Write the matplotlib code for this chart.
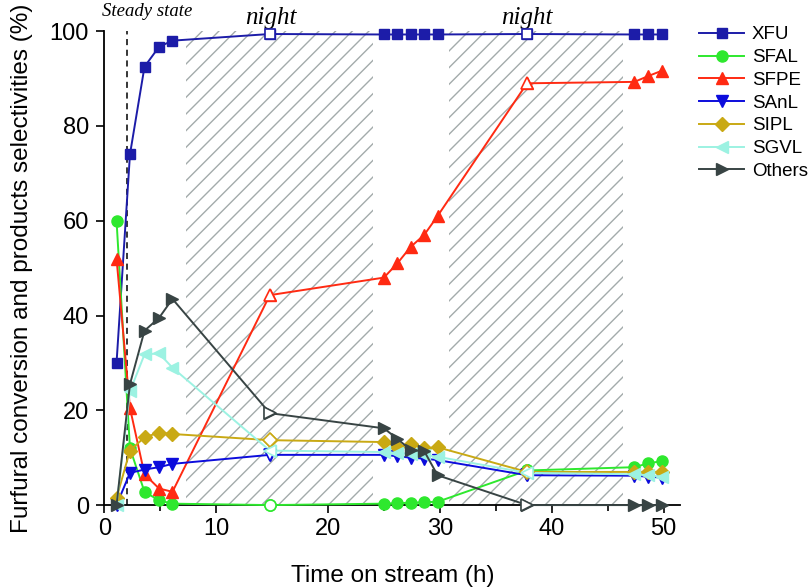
import matplotlib.pyplot as plt
from matplotlib.ticker import MultipleLocator

plt.rcParams['font.family'] = ['Liberation Sans', 'DejaVu Sans']
plt.rcParams['hatch.linewidth'] = 1.0

# time on stream (h)
time_h = [1.1, 2.3, 3.6, 4.9, 6.1, 14.8, 25.0, 26.2, 27.4, 28.6, 29.8, 37.8, 47.4, 48.6, 49.9]

xfu = [30, 74, 92.5, 96.7, 98, 99.4, 99.3, 99.3, 99.3, 99.3, 99.3, 99.4, 99.3, 99.3, 99.3]
sfal = [60, 12, 2.8, 1.0, 0.3, 0, 0.3, 0.4, 0.5, 0.6, 0.7, 7.3, 8.0, 8.8, 9.3]
sfpe = [52, 20.5, 6.5, 3.5, 2.8, 44.3, 48, 51, 54.5, 57, 61, 89, 89.3, 90.5, 91.7]
sanl = [0, 6.8, 7.5, 8.0, 8.7, 10.6, 10.6, 10.3, 10.0, 9.8, 9.5, 6.3, 6.2, 6.0, 5.8]
sipl = [1.5, 11.5, 14.3, 15.3, 15.0, 13.7, 13.3, 12.3, 12.8, 12.0, 12.2, 7.0, 7.0, 7.0, 7.0]
sgvl = [0, 24, 31.8, 32, 29, 11.5, 11.2, 11.0, 10.8, 10.6, 10.2, 6.8, 6.5, 6.3, 6.0]
others = [0, 25.5, 36.8, 39.5, 43.5, 19.4, 16.2, 14.0, 11.6, 11.4, 6.3, 0, 0, 0, 0]

names = ['XFU', 'SFAL', 'SFPE', 'SAnL', 'SIPL', 'SGVL', 'Others']
series = [xfu, sfal, sfpe, sanl, sipl, sgvl, others]
colors = ['#1c1ca8', '#2ee82e', '#ff2a12', '#0c0cdc', '#c9a914', '#9cf2e2', '#384444']
markers = ['s', 'o', '^', 'v', 'D', '<', '>']
sizes = [7, 8, 8, 8, 7, 8, 8]

night_spans = [(7.3, 24.0), (30.8, 46.4)]
night_idx = [5, 11]  # hollow markers for samples taken at night

fig = plt.figure(figsize=(8.08, 5.88), dpi=100)
ax = fig.add_axes([0.129, 0.141, 0.713, 0.806])

for x0, x1 in night_spans:
    ax.axvspan(x0, x1, ymin=0, ymax=1.01, facecolor='none', edgecolor='#a3abab',
               hatch='//', linewidth=0, zorder=0)

ax.axvline(2.0, color='black', linestyle=(0, (4, 3)), linewidth=1.1, zorder=1)

for name, ys, c, m, s in zip(names, series, colors, markers, sizes):
    ax.plot(time_h, ys, color=c, marker=m, markersize=s, linewidth=1.4,
            label=name, clip_on=False, zorder=3)
    ax.plot([time_h[i] for i in night_idx], [ys[i] for i in night_idx],
            linestyle='none', marker=m, markersize=s, markerfacecolor='white',
            markeredgecolor=c, markeredgewidth=1.2, clip_on=False, zorder=4)

ax.set_xlim(0, 51.5)
ax.set_ylim(0, 100)
ax.xaxis.set_major_locator(MultipleLocator(10))
ax.xaxis.set_minor_locator(MultipleLocator(5))
ax.yaxis.set_major_locator(MultipleLocator(20))
ax.tick_params(which='major', length=6, width=1.2, labelsize=17)
ax.tick_params(axis='y', pad=5)
ax.tick_params(which='minor', length=4, width=1.2)
for side in ['top', 'right']:
    ax.spines[side].set_visible(False)
for side in ['left', 'bottom']:
    ax.spines[side].set_linewidth(1.3)

ax.set_xlabel('Time on stream (h)', fontsize=17.5, labelpad=18)
ax.set_ylabel('Furfural conversion and products selectivities (%)', fontsize=17.5, labelpad=12)

ax.text(3.8, 103.2, 'Steady state', family='Liberation Serif', style='italic',
        fontsize=13.5, ha='center', va='baseline')
ax.text(14.9, 101.6, 'night', family='Liberation Serif', style='italic',
        fontsize=18, ha='center', va='baseline')
ax.text(37.8, 101.6, 'night', family='Liberation Serif', style='italic',
        fontsize=18, ha='center', va='baseline')

fig.legend(loc='upper left', bbox_to_anchor=(0.856, 0.968), frameon=False,
           fontsize=13.5, handlelength=2.4, labelspacing=0.3, handletextpad=0.4,
           borderaxespad=0)

fig.savefig('out.png', dpi=100)
